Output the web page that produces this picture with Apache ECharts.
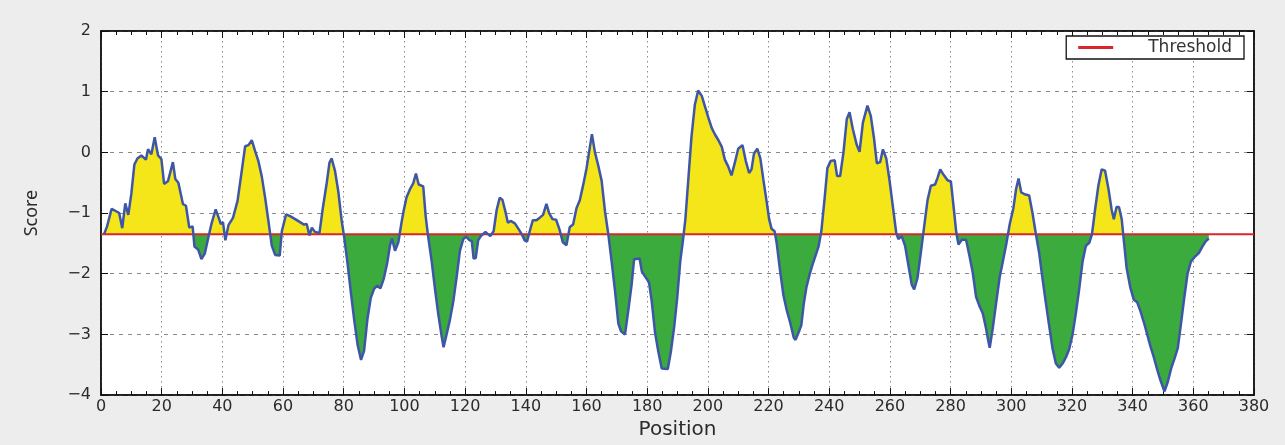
<!DOCTYPE html>
<html>
<head>
<meta charset="utf-8">
<script src="https://cdn.jsdelivr.net/npm/echarts@6/dist/echarts.min.js"></script>
<style>
    html, body { margin: 0; padding: 0; background: #ededed; }
    #chart-container { width: 1285px; height: 445px; }
</style>
</head>
<body>
<div id="chart-container"></div>
<script>
// residue position / score
const positions = [
    1, 2, 3.5, 5, 6, 7, 8, 9, 10, 11, 12, 13.3, 14.8, 15.5, 16.6, 17.7, 18.8, 19.9, 20.8, 22.1,
    23.7, 24.5, 25.5, 27, 28, 29.1, 30.2, 30.8, 32, 33.1, 34.2, 35.3, 36.4, 37.8, 38.6, 39.5, 40.2, 41, 42, 43.5,
    45, 46.4, 47.5, 48.6, 49.7, 50.8, 51.9, 53, 54.1, 55.2, 56.3, 57.4, 58.9, 59.6, 61, 62.3, 64, 65.6, 66.9, 67.8,
    68.7, 69.5, 70.5, 72, 73.1, 74.4, 75.3, 76, 77.1, 78.2, 79.3, 80.1, 81.3, 82.4, 83.5, 84.6, 85.7, 86.7, 87.8, 88.9,
    90, 91, 92.1, 93.2, 94.3, 95.3, 95.9, 96.9, 98, 99.1, 99.8, 100.7, 101.9, 102.9, 103.8, 104.7, 106.2, 107, 107.8, 109,
    110.1, 111.2, 112.3, 112.9, 113.8, 115, 116.1, 117.2, 118.3, 119.4, 120.3, 121.5, 122.2, 122.8, 123.5, 124.3, 125.2, 126.7, 128.3, 129.4,
    130.4, 131.4, 132.3, 133.3, 134.1, 135, 136.4, 137.7, 138.8, 139.6, 140.4, 141.3, 142.3, 143.5, 144.5, 145.7, 146.8, 147.7, 148.8, 150,
    151.1, 152.2, 153.4, 154.5, 155.6, 156.7, 157.8, 158.9, 160, 161, 161.8, 162.8, 163.9, 165, 166.1, 167.2, 168.3, 169.4, 170.5, 171.4,
    172.7, 173.8, 174.9, 175.7, 177.5, 178.3, 179.5, 180.6, 181.5, 182.6, 183.7, 184.8, 186.8, 187.8, 188.9, 189.9, 190.9, 191.8, 192.6, 193.6,
    194.6, 195.7, 196.8, 198, 199.1, 200.2, 201.3, 202.4, 203.5, 204.6, 205.6, 206.7, 207.8, 208.9, 210, 211.4, 212.5, 213.6, 214.4, 215.2,
    216.3, 217.3, 218.3, 219.4, 220.2, 221, 222, 222.7, 223.8, 224.9, 226, 227.1, 228.3, 228.9, 229.9, 230.8, 231.6, 232.5, 233.5, 234.5,
    235.5, 236.5, 237.4, 238.5, 239.4, 240.5, 241.8, 242.6, 243.6, 244.7, 245.8, 246.7, 247.8, 249.1, 250, 251.1, 252.6, 253.7, 254.8, 255.7,
    256.8, 257.7, 258.8, 259.9, 261, 262.1, 262.8, 263.9, 265, 266.1, 267.2, 268, 269.1, 270.2, 271.3, 272.4, 273.5, 274.9, 275.7, 276.6,
    277.7, 279, 280.1, 281, 281.9, 282.6, 283.7, 285.1, 286.2, 287.3, 288.4, 289.5, 290.6, 291.6, 292.4, 292.9, 293.9, 295.1, 296.2, 297.3,
    298.4, 299.5, 300.7, 301.6, 302.4, 303.3, 304.4, 305.9, 307, 308.1, 309.2, 310.3, 311.4, 312.5, 313.6, 314.7, 315.8, 316.9, 318, 319.1,
    320.2, 321.3, 322.4, 323.5, 324.6, 325.7, 326.6, 327.6, 328.7, 329.8, 330.9, 332, 333.1, 333.8, 334.7, 335.5, 336.4, 337, 338, 339.2,
    340.4, 341.5, 342.6, 343.7, 344.8, 345.9, 347, 348.1, 349.2, 350.5, 351.6, 352.7, 353.8, 354.9, 355.9, 357, 358.1, 359.2, 360.5, 361.8,
    362.9, 364, 365.1
];
const scores = [
    -1.35, -1.22, -0.93, -0.97, -1.0, -1.25, -0.84, -1.03, -0.68, -0.2, -0.1, -0.05, -0.12, 0.05, -0.03, 0.25, -0.05, -0.11, -0.52, -0.47,
    -0.16, -0.44, -0.5, -0.85, -0.88, -1.24, -1.22, -1.55, -1.6, -1.76, -1.67, -1.42, -1.18, -0.94, -1.05, -1.18, -1.15, -1.45, -1.2, -1.08,
    -0.8, -0.3, 0.1, 0.12, 0.2, 0.02, -0.15, -0.4, -0.75, -1.14, -1.54, -1.69, -1.7, -1.3, -1.02, -1.05, -1.1, -1.15, -1.19, -1.18,
    -1.37, -1.24, -1.31, -1.33, -0.92, -0.5, -0.17, -0.1, -0.3, -0.64, -1.12, -1.38, -1.85, -2.33, -2.78, -3.18, -3.42, -3.27, -2.75, -2.4,
    -2.25, -2.2, -2.24, -2.08, -1.83, -1.52, -1.42, -1.62, -1.48, -1.14, -0.95, -0.74, -0.6, -0.51, -0.35, -0.53, -0.56, -1.05, -1.38, -1.8,
    -2.26, -2.68, -3.04, -3.21, -3.02, -2.76, -2.46, -2.06, -1.62, -1.43, -1.39, -1.45, -1.46, -1.75, -1.74, -1.45, -1.38, -1.31, -1.38, -1.3,
    -0.95, -0.75, -0.78, -0.98, -1.16, -1.13, -1.17, -1.27, -1.36, -1.45, -1.47, -1.3, -1.12, -1.12, -1.08, -1.03, -0.85, -1.0, -1.1, -1.11,
    -1.27, -1.48, -1.53, -1.23, -1.19, -0.92, -0.79, -0.54, -0.27, 0.05, 0.3, 0.0, -0.22, -0.47, -0.97, -1.35, -1.8, -2.28, -2.82, -2.95,
    -3.0, -2.6, -2.17, -1.76, -1.75, -1.97, -2.06, -2.14, -2.45, -2.97, -3.29, -3.56, -3.57, -3.29, -2.88, -2.4, -1.8, -1.45, -1.1, -0.42,
    0.25, 0.78, 1.02, 0.93, 0.75, 0.57, 0.4, 0.29, 0.2, 0.09, -0.12, -0.23, -0.38, -0.17, 0.06, 0.12, -0.14, -0.34, -0.28, -0.02,
    0.06, -0.1, -0.45, -0.82, -1.1, -1.26, -1.3, -1.5, -1.95, -2.35, -2.6, -2.8, -3.05, -3.09, -2.97, -2.85, -2.5, -2.22, -2.02, -1.85,
    -1.7, -1.55, -1.3, -0.75, -0.26, -0.14, -0.13, -0.39, -0.39, 0.0, 0.55, 0.66, 0.38, 0.12, 0.01, 0.49, 0.77, 0.6, 0.22, -0.18,
    -0.16, 0.05, -0.1, -0.47, -0.9, -1.33, -1.43, -1.38, -1.54, -1.86, -2.18, -2.26, -2.07, -1.65, -1.22, -0.79, -0.55, -0.53, -0.42, -0.28,
    -0.37, -0.46, -0.48, -0.9, -1.33, -1.52, -1.44, -1.44, -1.7, -1.98, -2.38, -2.53, -2.65, -2.88, -3.1, -3.22, -2.9, -2.45, -2.05, -1.78,
    -1.5, -1.18, -0.92, -0.6, -0.43, -0.66, -0.69, -0.71, -1.0, -1.34, -1.66, -2.08, -2.48, -2.86, -3.23, -3.48, -3.55, -3.48, -3.38, -3.24,
    -3.0, -2.65, -2.25, -1.8, -1.54, -1.49, -1.35, -0.95, -0.55, -0.28, -0.3, -0.59, -0.95, -1.1, -0.9, -0.9, -1.1, -1.4, -1.9, -2.22,
    -2.43, -2.47, -2.62, -2.8, -3.0, -3.2, -3.38, -3.58, -3.76, -3.94, -3.78, -3.56, -3.4, -3.22, -2.84, -2.4, -2.0, -1.8, -1.72, -1.66,
    -1.56, -1.47, -1.42
];
const threshold = -1.35;
const xRange = [0, 380];
const yRange = [-4, 2];

const points = positions.map((p, i) => [p, scores[i]]);
const minus = v => String(v).replace('-', '\u2212');

const dom = document.getElementById('chart-container');
const myChart = echarts.init(dom, null, { renderer: 'canvas' });

const axisText = { color: '#2b2b2b', fontFamily: 'DejaVu Sans', fontSize: 16 };
const frameAxis = { show: true, onZero: false, lineStyle: { color: '#111', width: 1.5 } };
const tick = { show: true, inside: true, length: 7, lineStyle: { color: '#111' } };
const minor = { show: true, splitNumber: 4, length: 4, lineStyle: { color: '#111' } };

const option = {
    backgroundColor: '#ededed',
    animation: false,
    grid: {
        left: 101, right: 31, top: 31, bottom: 40,
        show: true, backgroundColor: '#ffffff', borderColor: '#111', borderWidth: 1.5
    },
    legend: {
        data: ['Threshold'],
        right: 41,
        top: 36,
        backgroundColor: '#ffffff',
        borderColor: '#111',
        borderWidth: 1.3,
        borderRadius: 0,
        padding: [3, 12, 3, 12],
        itemWidth: 35,
        itemHeight: 3,
        icon: 'rect',
        textStyle: { color: '#333', fontFamily: 'DejaVu Sans', fontSize: 17, padding: [0, 0, 0, 30] }
    },
    xAxis: [
        {
            type: 'value',
            min: xRange[0], max: xRange[1], interval: 20,
            name: 'Position',
            nameLocation: 'middle',
            nameGap: 19,
            nameTextStyle: { color: '#2b2b2b', fontFamily: 'DejaVu Sans', fontSize: 20 },
            axisLine: frameAxis,
            axisTick: tick,
            minorTick: minor,
            axisLabel: Object.assign({ margin: 4, formatter: minus }, axisText),
            splitLine: { show: true, lineStyle: { color: '#8a8a8a', type: [1.5, 3.5], width: 1 } }
        },
        {
            type: 'value',
            position: 'top',
            min: xRange[0], max: xRange[1], interval: 20,
            axisLine: frameAxis,
            axisTick: tick,
            minorTick: minor,
            axisLabel: { show: false },
            splitLine: { show: false }
        }
    ],
    yAxis: [
        {
            type: 'value',
            min: yRange[0], max: yRange[1], interval: 1,
            name: 'Score',
            nameLocation: 'middle',
            nameGap: 60,
            nameRotate: 90,
            nameTextStyle: { color: '#2b2b2b', fontFamily: 'Noto Sans', fontSize: 18 },
            axisLine: frameAxis,
            axisTick: tick,
            axisLabel: Object.assign({ margin: 10, formatter: minus }, axisText),
            splitLine: { show: true, lineStyle: { color: '#8a8a8a', type: [4, 5], width: 1 } }
        },
        {
            type: 'value',
            position: 'right',
            min: yRange[0], max: yRange[1], interval: 1,
            axisLine: frameAxis,
            axisTick: tick,
            axisLabel: { show: false },
            splitLine: { show: false }
        }
    ],
    series: [
        {
            name: 'fill',
            type: 'line',
            data: points,
            symbol: 'none',
            lineStyle: { width: 0 },
            areaStyle: { origin: threshold, opacity: 1, color: '#f4e619' },
            z: 2
        },
        {
            name: 'Threshold',
            type: 'line',
            data: [[xRange[0], threshold], [xRange[1], threshold]],
            symbol: 'none',
            color: '#d9262b',
            lineStyle: { color: '#d9262b', width: 2 },
            z: 3
        },
        {
            name: 'score',
            type: 'line',
            data: points,
            symbol: 'none',
            color: '#3e56a8',
            lineStyle: { color: '#3e56a8', width: 2.5 },
            z: 4
        }
    ]
};

myChart.setOption(option);

// yellow above the threshold, green below: a hard-stop gradient in pixel space
const topPx = myChart.convertToPixel({ yAxisIndex: 0 }, yRange[1]);
const botPx = myChart.convertToPixel({ yAxisIndex: 0 }, yRange[0]);
const thPx = myChart.convertToPixel({ yAxisIndex: 0 }, threshold);
const cut = (thPx - topPx) / (botPx - topPx);
myChart.setOption({
    series: [{
        name: 'fill',
        areaStyle: {
            color: new echarts.graphic.LinearGradient(0, topPx, 0, botPx, [
                { offset: 0, color: '#f4e619' },
                { offset: cut, color: '#f4e619' },
                { offset: cut, color: '#3aab3c' },
                { offset: 1, color: '#3aab3c' }
            ], true)
        }
    }]
});

window.addEventListener('resize', () => {
    myChart.resize();
});
</script>
</body>
</html>
